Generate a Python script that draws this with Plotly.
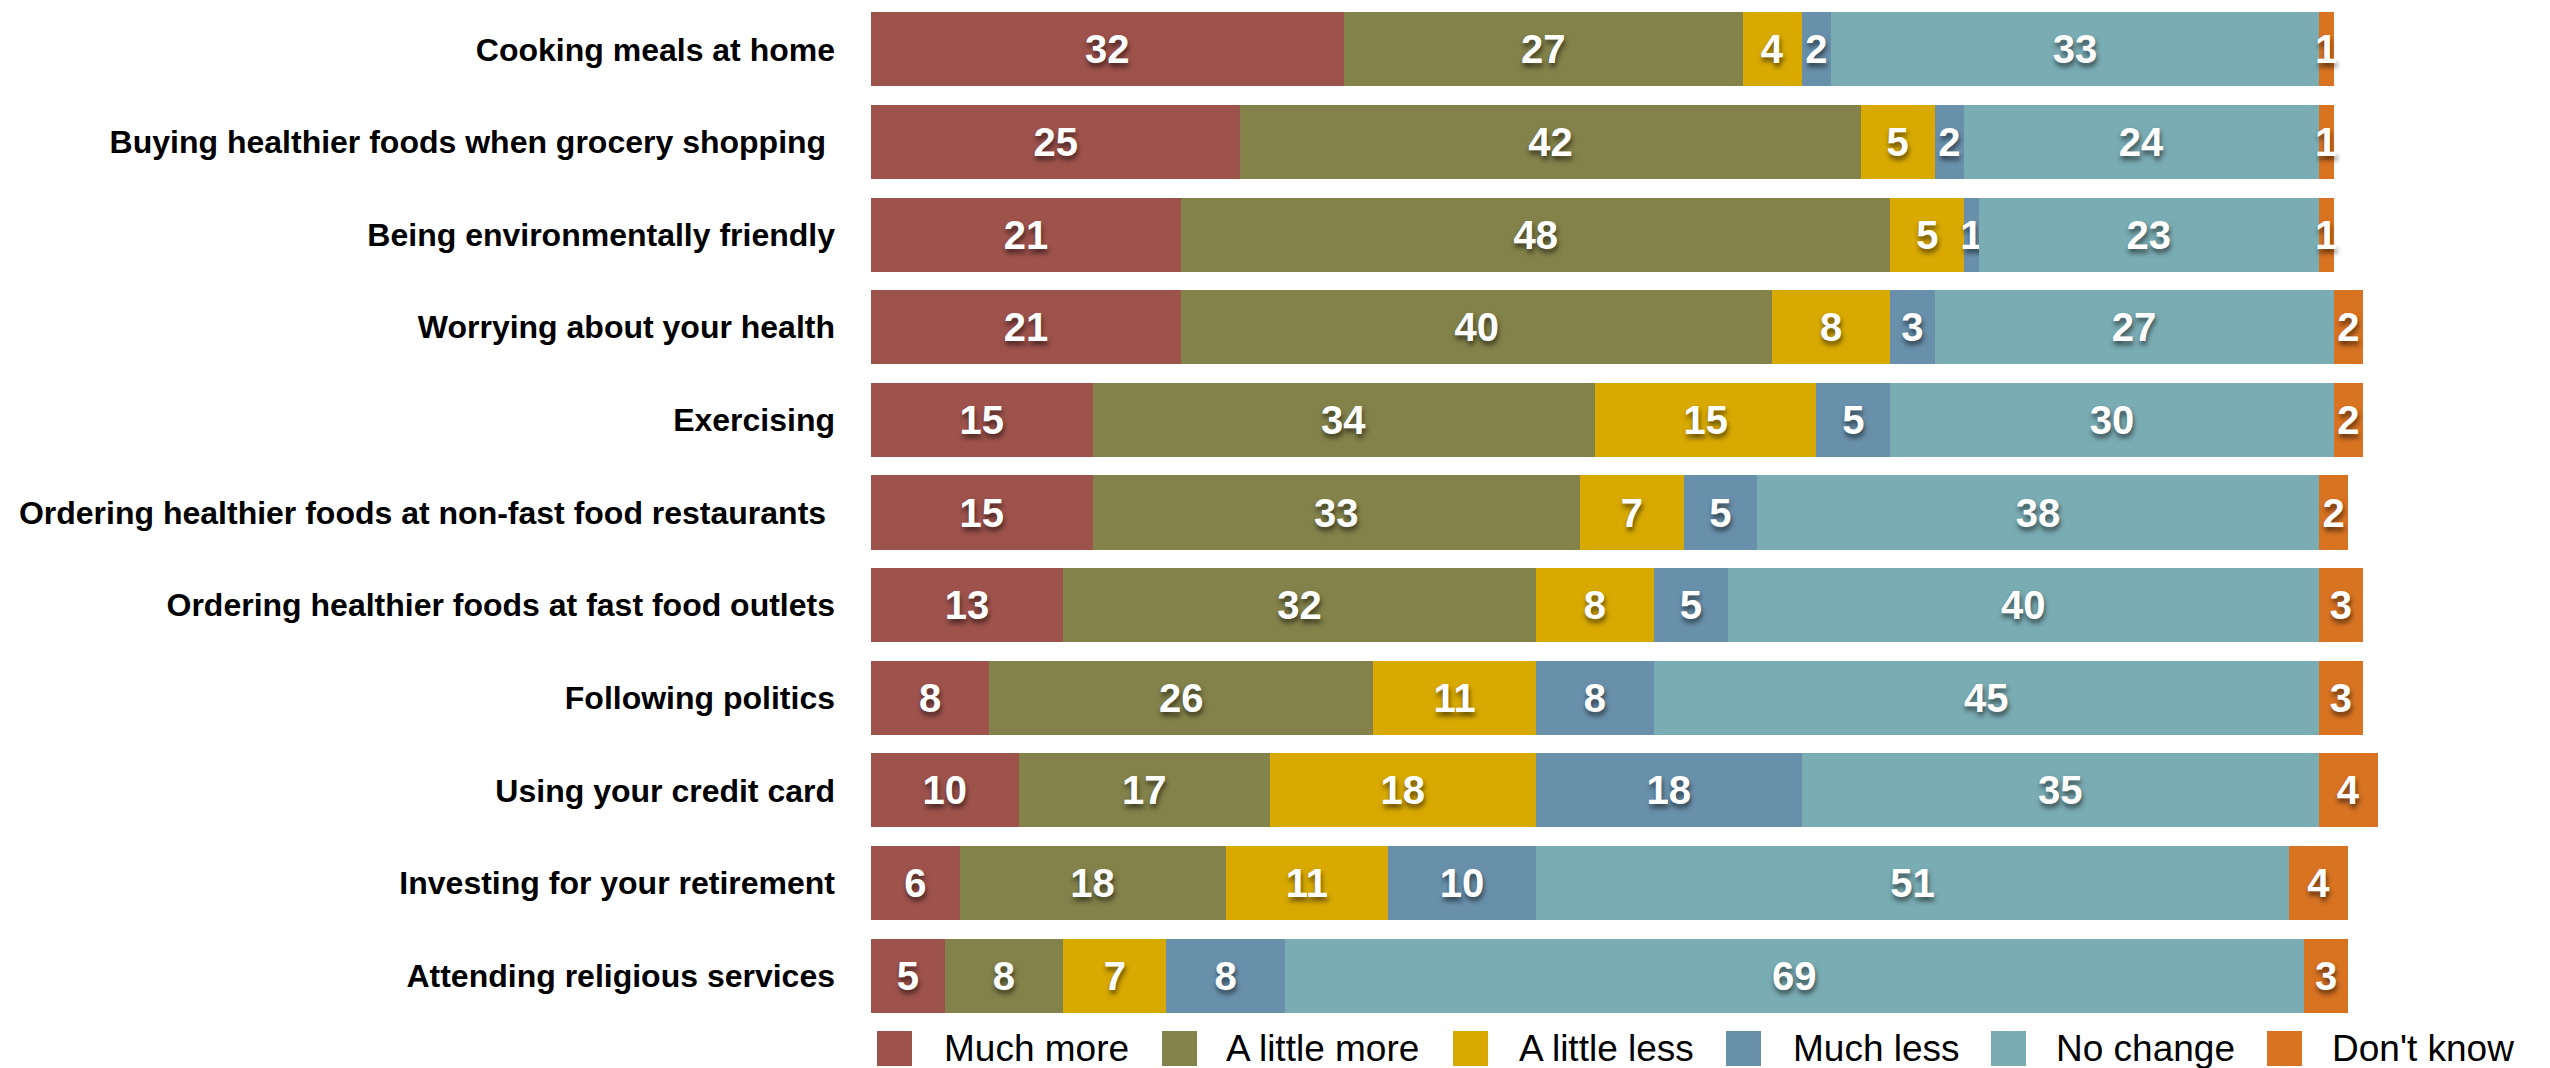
import plotly.graph_objects as go

# Survey items, top to bottom
categories = [
    "Cooking meals at home",
    "Buying healthier foods when grocery shopping\u00a0",
    "Being environmentally friendly",
    "Worrying about your health",
    "Exercising",
    "Ordering healthier foods at non-fast food restaurants\u00a0",
    "Ordering healthier foods at fast food outlets",
    "Following politics",
    "Using your credit card",
    "Investing for your retirement",
    "Attending religious services",
]

# Percent of respondents per answer
much_more = [32, 25, 21, 21, 15, 15, 13, 8, 10, 6, 5]
little_more = [27, 42, 48, 40, 34, 33, 32, 26, 17, 18, 8]
little_less = [4, 5, 5, 8, 15, 7, 8, 11, 18, 11, 7]
much_less = [2, 2, 1, 3, 5, 5, 5, 8, 18, 10, 8]
no_change = [33, 24, 23, 27, 30, 38, 40, 45, 35, 51, 69]
dont_know = [1, 1, 1, 2, 2, 2, 3, 3, 4, 4, 3]

series_names = ["Much more", "A little more", "A little less", "Much less", "No change", "Don't know"]
series_values = [much_more, little_more, little_less, much_less, no_change, dont_know]
colors = ["#9E524C", "#83824A", "#D8A900", "#6990AB", "#7AACB3", "#D87322"]

W, H = 2550, 1068
M_L, M_R, M_T, M_B = 871, 54, 3, 46
PLOT_W = W - M_L - M_R
PLOT_H = H - M_T - M_B

FONT = "Liberation Sans, Arial, Helvetica, sans-serif"

fig = go.Figure()
for name, vals, col in zip(series_names, series_values, colors):
    fig.add_trace(go.Bar(
        name=name,
        y=categories,
        x=vals,
        orientation="h",
        marker=dict(color=col, line=dict(width=0)),
        text=[str(v) for v in vals],
        textposition="inside",
        insidetextanchor="middle",
        textangle=0,
        constraintext="none",
        textfont=dict(family=FONT, size=40, color="white", weight="bold",
                      shadow="1px 4px 5px rgba(0,0,0,0.55)"),
        showlegend=False,
        hoverinfo="skip",
    ))


def px_x(px):
    return (px - M_L) / PLOT_W


def px_y(py):
    return (H - M_B - py) / PLOT_H


# Legend row drawn below the bars: swatch then label
swatch_x = [877, 1162, 1453, 1726, 1991, 2267]
label_x = [942, 1224, 1517, 1791, 2054, 2330]
shapes = []
annotations = []
for name, col, sx, lx in zip(series_names, colors, swatch_x, label_x):
    shapes.append(dict(type="rect", xref="paper", yref="paper",
                       x0=px_x(sx), x1=px_x(sx + 35), y0=px_y(1066), y1=px_y(1031),
                       fillcolor=col, line=dict(width=0), layer="above"))
    annotations.append(dict(xref="paper", yref="paper", x=px_x(lx), y=px_y(1048),
                            xanchor="left", yanchor="middle", showarrow=False,
                            text=name, font=dict(family=FONT, size=37, color="black")))

fig.update_layout(
    width=W, height=H,
    margin=dict(l=M_L, r=M_R, t=M_T, b=M_B, pad=0),
    barmode="stack",
    bargap=0.2,
    plot_bgcolor="white",
    paper_bgcolor="white",
    xaxis=dict(range=[0, 110], visible=False, fixedrange=True),
    yaxis=dict(autorange="reversed", showgrid=False, zeroline=False, showline=False,
               ticks="", ticklabelstandoff=35, automargin=False,
               tickfont=dict(family=FONT, size=32, color="black", weight="bold")),
    shapes=shapes,
    annotations=annotations,
)

fig.write_html("out.html")
